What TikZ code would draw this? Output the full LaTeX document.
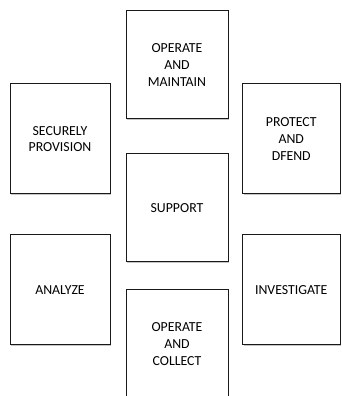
\documentclass[tikz,border=0pt]{standalone}
\usepackage{fontspec}
\setmainfont{Carlito}
\usetikzlibrary{shadows}
\begin{document}
\begin{tikzpicture}[x=1pt,y=1pt,
  boxa/.style={draw=black!90, line width=1pt, fill=white, rectangle, inner sep=0pt,
    align=center, font=\fontsize{13.8}{16.7}\selectfont, text=black,
    drop shadow={shadow xshift=1.3pt, shadow yshift=-1.3pt, opacity=0.45}}]
\clip (0,0) rectangle (342,396);
\fill[white] (0,0) rectangle (342,396);
% y_tikz = 396 - y_px
\node[boxa, minimum width=102pt, minimum height=108pt] (om) at (177,331) {OPERATE\\AND\\MAINTAIN};
\node[boxa, minimum width=100pt, minimum height=110pt] (sp) at (60,257) {SECURELY\\PROVISION};
\node[boxa, minimum width=97.5pt, minimum height=110pt] (pd) at (291.25,257) {PROTECT\\AND\\DFEND};
\node[boxa, minimum width=102pt, minimum height=108pt] (su) at (177,188) {SUPPORT};
\node[boxa, minimum width=100pt, minimum height=110pt] (an) at (60,106) {ANALYZE};
\node[boxa, minimum width=97.5pt, minimum height=110pt] (in) at (291.25,106) {INVESTIGATE};
\node[boxa, minimum width=102pt, minimum height=108pt] (oc) at (177,52) {OPERATE\\AND\\COLLECT};
\end{tikzpicture}
\end{document}
